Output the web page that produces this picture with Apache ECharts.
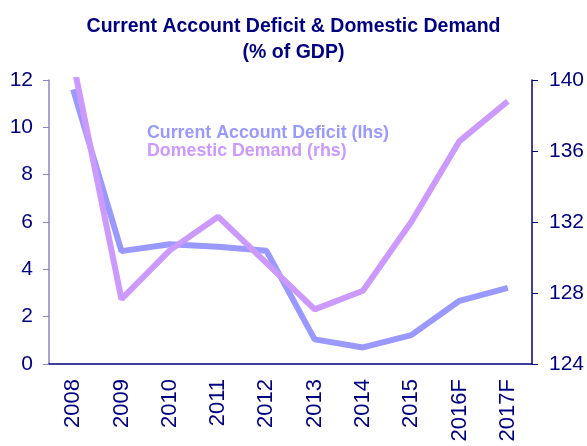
<!DOCTYPE html>
<html>
<head>
<meta charset="utf-8">
<script src="https://cdn.jsdelivr.net/npm/echarts@6/dist/echarts.min.js"></script>
<style>
  html, body { margin: 0; padding: 0; background: #fff; }
  #chart { width: 587px; height: 446px; }
</style>
</head>
<body>
<div id="chart"></div>
<script>
// 数据
const years = ['2008', '2009', '2010', '2011', '2012', '2013', '2014', '2015', '2016F', '2017F']
const currentAccountDeficit = [11.6, 4.77, 5.06, 4.95, 4.79, 1.04, 0.7, 1.22, 2.67, 3.22]
const domesticDemand = [141.0, 127.65, 130.4, 132.3, 129.7, 127.08, 128.13, 132.0, 136.56, 138.8]
const leftTicks = { min: 0, max: 12, interval: 2 }
const rightTicks = { min: 124, max: 140, interval: 4 }

const navy = '#000080'
const blue = '#9999ff'
const purple = '#cc99ff'
const font = 'Liberation Sans, Arial, sans-serif'

const chart = echarts.init(document.getElementById('chart'))
const option = {
  animation: false,
  title: {
    text: 'Current Account Deficit & Domestic Demand\n(% of GDP)',
    left: 'center',
    top: 9,
    textStyle: {
      color: navy,
      fontFamily: font,
      fontWeight: 'bold',
      fontSize: 19.5,
      lineHeight: 26
    }
  },
  legend: {
    orient: 'vertical',
    left: 137,
    top: 119,
    icon: 'none',
    itemWidth: 0,
    itemHeight: 0,
    itemGap: 0,
    selectedMode: false,
    textStyle: { fontFamily: font, fontWeight: 'bold', fontSize: 17.8, lineHeight: 17 },
    data: [
      { name: 'Current Account Deficit (lhs)', textStyle: { color: blue } },
      { name: 'Domestic Demand (rhs)', textStyle: { color: purple } }
    ]
  },
  grid: { left: 49, right: 50, top: 80, bottom: 82 },
  xAxis: {
    type: 'category',
    data: years,
    boundaryGap: true,
    axisLine: { lineStyle: { color: navy, width: 1.5 } },
    axisTick: { length: 6, lineStyle: { color: navy } },
    axisLabel: {
      rotate: 90,
      margin: 15,
      color: navy,
      fontFamily: font,
      fontSize: 22
    },
    splitLine: { show: false }
  },
  yAxis: [
    {
      type: 'value',
      position: 'left',
      min: leftTicks.min,
      max: leftTicks.max,
      interval: leftTicks.interval,
      axisLine: { show: true, lineStyle: { color: '#8585c8', width: 1.5 } },
      axisTick: { show: true, length: 6, lineStyle: { color: '#8585c8' } },
      axisLabel: { margin: 16, color: navy, fontFamily: font, fontSize: 21 },
      splitLine: { show: false }
    },
    {
      type: 'value',
      position: 'right',
      min: rightTicks.min,
      max: rightTicks.max,
      interval: rightTicks.interval,
      axisLine: { show: true, lineStyle: { color: navy, width: 1.5 } },
      axisTick: { show: true, length: 6, lineStyle: { color: navy } },
      axisLabel: { margin: 17, color: navy, fontFamily: font, fontSize: 21 },
      splitLine: { show: false }
    }
  ],
  series: [
    {
      name: 'Current Account Deficit (lhs)',
      type: 'line',
      yAxisIndex: 0,
      data: currentAccountDeficit,
      showSymbol: false,
      symbol: 'none',
      lineStyle: { color: blue, width: 6 },
      itemStyle: { color: blue }
    },
    {
      name: 'Domestic Demand (rhs)',
      type: 'line',
      yAxisIndex: 1,
      data: domesticDemand,
      showSymbol: false,
      symbol: 'none',
      clip: true,
      lineStyle: { color: purple, width: 6 },
      itemStyle: { color: purple }
    }
  ]
}
chart.setOption(option)
</script>
</body>
</html>
